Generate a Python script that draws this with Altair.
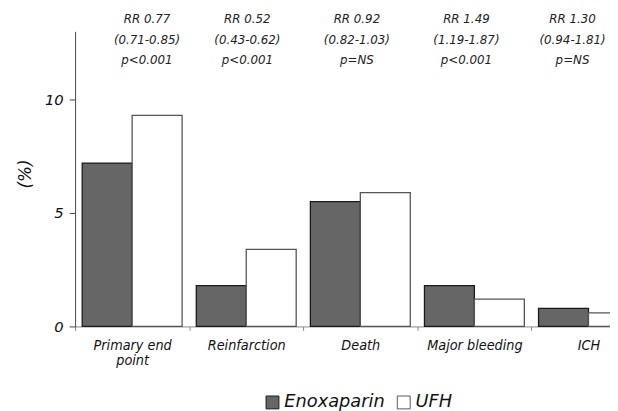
import altair as alt
import pandas as pd

# ---- data ----
categories = ["Primary end point", "Reinfarction", "Death", "Major bleeding", "ICH"]
series = ["Enoxaparin", "UFH"]
enoxaparin = [7.2, 1.8, 5.5, 1.8, 0.8]
ufh = [9.3, 3.4, 5.9, 1.2, 0.6]
rr_text = ["RR 0.77", "RR 0.52", "RR 0.92", "RR 1.49", "RR 1.30"]
ci_text = ["(0.71-0.85)", "(0.43-0.62)", "(0.82-1.03)", "(1.19-1.87)", "(0.94-1.81)"]
p_text = ["p<0.001", "p<0.001", "p=NS", "p<0.001", "p=NS"]
annot_pos = [0.63, 1.51, 2.47, 3.43, 4.36]  # annotation centres, in group units
y_ticks = [0, 5, 10]

bar_rows = []
for c, e, u in zip(categories, enoxaparin, ufh):
    bar_rows.append({"category": c, "series": "Enoxaparin", "value": e})
    bar_rows.append({"category": c, "series": "UFH", "value": u})
bar_df = pd.DataFrame(bar_rows)

annot_df = pd.DataFrame({
    "pos": annot_pos,
    "label": [f"{a}\n{b}\n{c}" for a, b, c in zip(rr_text, ci_text, p_text)],
})

SANS = "DejaVu Sans"
COND = "DejaVu Sans Condensed, DejaVu Sans"
XRANGE = [0, 578]

bars = alt.Chart(bar_df).mark_bar(strokeWidth=1.3).encode(
    x=alt.X(
        "category:N",
        sort=categories,
        scale=alt.Scale(domain=categories, range=XRANGE, paddingInner=0, paddingOuter=0),
        axis=alt.Axis(
            title=None, labelAngle=0, tickBand="extent", tickSize=4,
            domainColor="#888888", tickColor="#888888", domainWidth=1,
            labelFont=COND, labelFontSize=14.5, labelFontStyle="italic",
            labelColor="#111111", labelPadding=8, labelLineHeight=16,
            labelOverlap=False,
            labelExpr="datum.label == 'Primary end point' ? ['Primary end', 'point'] : datum.label",
        ),
    ),
    xOffset=alt.XOffset(
        "series:N", sort=series,
        scale=alt.Scale(domain=series, paddingInner=0, paddingOuter=0.142),
    ),
    y=alt.Y(
        "value:Q",
        scale=alt.Scale(domain=[0, 13], nice=False),
        axis=alt.Axis(
            values=y_ticks, grid=False, title="(%)",
            titleFont=SANS, titleFontSize=17, titleFontStyle="italic",
            titleFontWeight="normal", titleColor="#111111", titlePadding=10,
            titleY=144,
            labelFont=SANS, labelFontSize=15, labelFontStyle="italic",
            labelColor="#111111", labelPadding=6, tickSize=6,
            domainColor="#444444", tickColor="#444444",
        ),
    ),
    fill=alt.Fill(
        "series:N", sort=series,
        scale=alt.Scale(domain=series, range=["#666666", "#ffffff"]),
        legend=alt.Legend(
            orient="none", legendX=191, legendY=367, direction="horizontal",
            title=None, symbolType="square", symbolSize=170,
            symbolStrokeColor="#333333", symbolStrokeWidth=1,
            labelFont=SANS, labelFontSize=18, labelFontStyle="italic",
            labelColor="#111111", labelOffset=3, columnPadding=10, padding=0,
        ),
    ),
    stroke=alt.Stroke(
        "series:N", sort=series,
        scale=alt.Scale(domain=series, range=["#1a1a1a", "#555555"]),
        legend=None,
    ),
)

annot = alt.Chart(annot_df).mark_text(
    lineBreak="\n", lineHeight=20.3, baseline="top", align="center",
    font=SANS, fontSize=12, fontStyle="italic", color="#222222", dy=-17,
).encode(
    x=alt.X("pos:Q", scale=alt.Scale(domain=[0, 5], range=XRANGE), axis=None),
    y=alt.datum(13),
    text="label:N",
)

chart = alt.layer(bars, annot).resolve_scale(x="independent").properties(
    width=542,
    height=299,
    autosize=alt.AutoSizeParams(type="none"),
    padding={"left": 68, "top": 21, "right": 0, "bottom": 83},
    background="#ffffff",
).configure_view(stroke=None)

chart.save("out.html", embed_options={"renderer": "svg", "actions": False})
